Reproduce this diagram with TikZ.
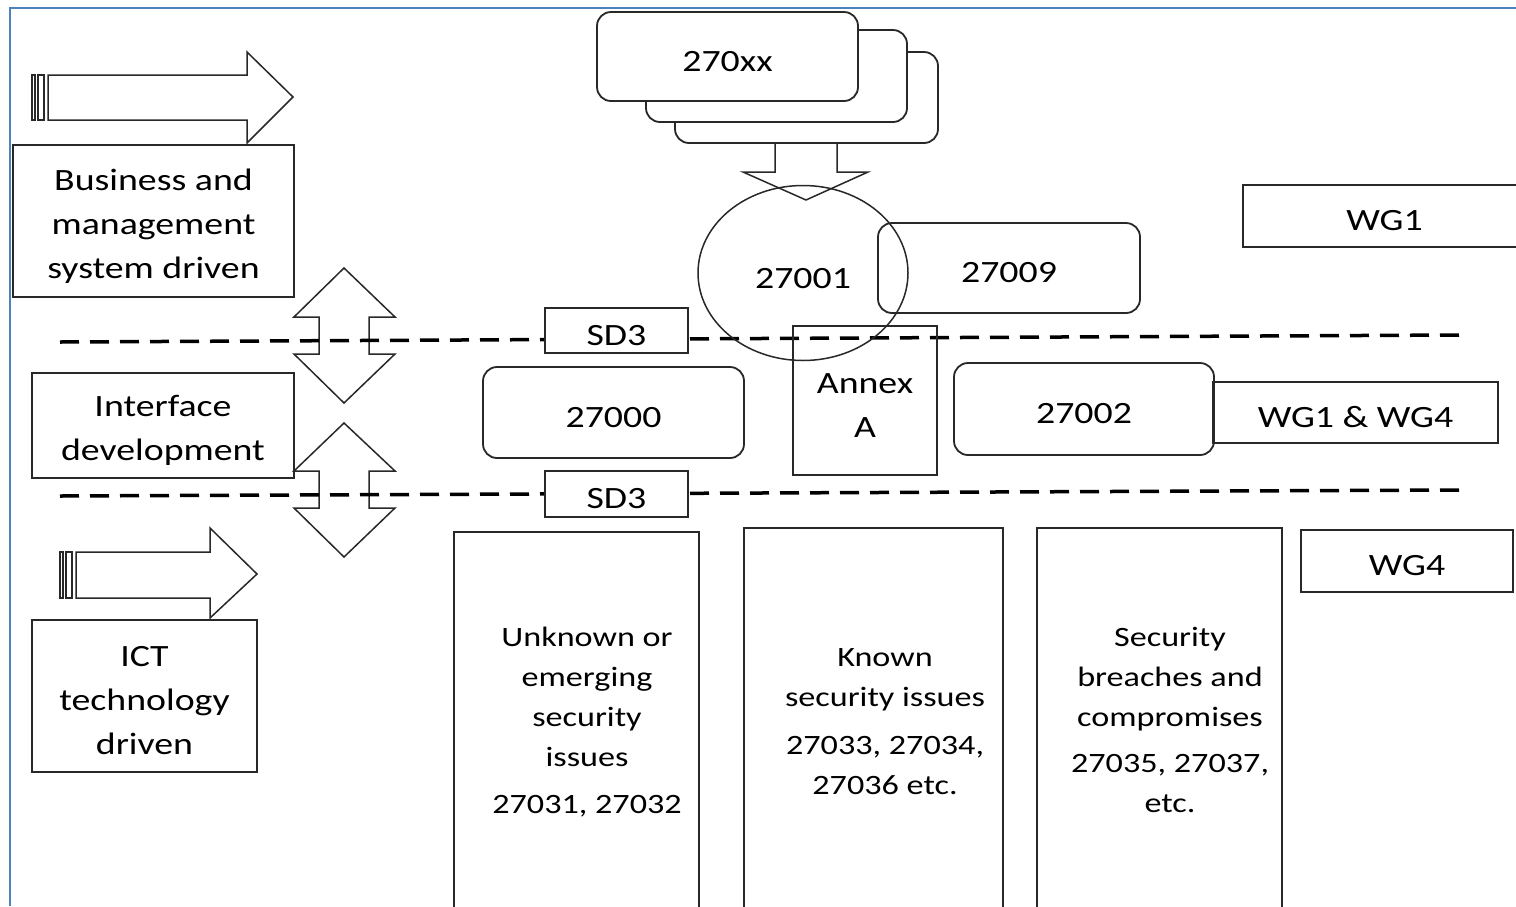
\documentclass[tikz,border=0pt]{standalone}
\usepackage{fontspec}
\setmainfont{Carlito}[FakeStretch=1.22]
\usepackage{tikz}
\usetikzlibrary{shapes.geometric,positioning,calc}
\usepackage{xcolor}
\definecolor{frameblue}{RGB}{79,129,189}
\definecolor{ink}{RGB}{40,40,40}

\tikzset{
  box/.style={draw=ink, line width=1.8pt, inner sep=0pt},
  rbox/.style={box, rounded corners=14pt},
  plate/.style={rbox, fill=white},
  tag/.style={align=center, font=\fontsize{31}{44}\selectfont, yshift=-5pt},
  coltext/.style={align=center, font=\fontsize{28}{40}\selectfont},
  blockarrow/.style={draw=ink, line width=1.5pt, line join=miter},
  divider/.style={line width=3.5pt, dash pattern=on 19pt off 11pt}
}

\begin{document}
\begin{tikzpicture}[x=1pt, y=-1pt]
    \clip (0,0) rectangle (1516,906);
    \fill[white] (0,0) rectangle (1516,906);

    % Frame
    \draw[frameblue, line width=2pt] (10,906) -- (10,8) -- (1516,8);

    % Left side: drivers
    \draw[blockarrow] (48,75) -- (247,75) -- (247,52) -- (293,97) -- (247,143)
        -- (247,120) -- (48,120) -- cycle;
    \draw[blockarrow] (32,75) rectangle (35,120);
    \draw[blockarrow] (38,75) rectangle (44,120);
    \node[box, minimum width=281pt, minimum height=152pt,
        label={[tag]center:{Business and\\management\\system driven}}] (business) at (153.5,221) {};

    \node[box, minimum width=262pt, minimum height=105pt,
        label={[tag]center:{Interface\\development}}] (interface) at (163,425.5) {};

    \draw[blockarrow] (76,552) -- (210,552) -- (210,528) -- (257,574) -- (210,618)
        -- (210,598) -- (76,598) -- cycle;
    \draw[blockarrow] (60,552) rectangle (63,598);
    \draw[blockarrow] (66,552) rectangle (72,598);
    \node[box, minimum width=225pt, minimum height=152pt,
        label={[tag]center:{ICT\\technology\\driven}}] (ict) at (144.5,696) {};

    % Up-down arrows
    \draw[blockarrow] (344,268) -- (395,317) -- (369,317) -- (369,354) -- (395,354)
        -- (344,403) -- (294,354) -- (319,354) -- (319,317) -- (294,317) -- cycle;
    \draw[blockarrow] (344,423) -- (395,471) -- (369,471) -- (369,508) -- (395,508)
        -- (344,557) -- (294,508) -- (319,508) -- (319,471) -- (294,471) -- cycle;

    % 270xx stack
    \node[plate, minimum width=263pt, minimum height=91pt] (stack3) at (806.5,97.5) {};
    \node[plate, minimum width=261pt, minimum height=92pt] (stack2) at (776.5,76) {};
    \node[plate, minimum width=261pt, minimum height=89pt,
        label={[tag]center:{270xx}}] (family) at (727.5,56.5) {};
    \draw[blockarrow] (775,143) -- (775,172) -- (743,172) -- (806,200) -- (868,172)
        -- (837,172) -- (837,143);

    % Dividers
    \coordinate (d1w) at (60,342);
    \coordinate (d1e) at (1460,335);
    \coordinate (d2w) at (60,496);
    \coordinate (d2e) at (1460,490);
    \draw[divider] (d1w) -- (d1e);
    \draw[divider] (d2w) -- (d2e);

    % Core standards
    \node[draw=ink, line width=1.5pt, ellipse, minimum width=210pt, minimum height=175pt,
        inner sep=0pt, label={[tag, yshift=-1pt]center:{27001}}] (isms) at (803,273) {};
    \node[rbox, minimum width=262pt, minimum height=90pt,
        label={[tag]center:{27009}}] (g27009) at (1009,268) {};
    \node[box, minimum width=144pt, minimum height=149pt,
        label={[tag]center:{Annex\\A}}] (annex) at (865,400.5) {};
    \node[rbox, minimum width=261pt, minimum height=91pt,
        label={[tag]center:{27000}}] (g27000) at (613.5,412.5) {};
    \node[rbox, minimum width=260pt, minimum height=92pt,
        label={[tag]center:{27002}}] (g27002) at (1084,409) {};
    \node[box, fill=white, minimum width=143pt, minimum height=45pt,
        label={[tag]center:{SD3}}] (sd3a) at (616.5,330.5) {};
    \node[box, fill=white, minimum width=143pt, minimum height=46pt,
        label={[tag]center:{SD3}}] (sd3b) at (616.5,494) {};

    % Working groups
    \node[box, minimum width=287pt, minimum height=62pt,
        label={[tag, xshift=-2pt]center:{WG1}}] (wg1) at (1386.5,216) {};
    \node[box, minimum width=285pt, minimum height=61pt,
        label={[tag]center:{WG1 \& WG4}}] (wg14) at (1355.5,412.5) {};
    \node[box, minimum width=212pt, minimum height=62pt,
        label={[tag]center:{WG4}}] (wg4) at (1407,561) {};

    % Security issue columns
    \node[box, minimum width=245pt, minimum height=398pt] (unknown) at (576.5,731) {};
    \node[box, minimum width=259pt, minimum height=402pt] (known) at (873.5,729) {};
    \node[box, minimum width=245pt, minimum height=402pt] (breach) at (1159.5,729) {};
    \node[coltext] (unknown-text) at (587,722)
        {Unknown or\\emerging\\security\\issues\\[7pt]27031, 27032};
    \node[coltext] (known-text) at (885,722)
        {Known\\security issues\\[8pt]27033, 27034,\\27036 etc.};
    \node[coltext] (breach-text) at (1170,720)
        {Security\\breaches and\\compromises\\[6pt]27035, 27037,\\etc.};
\end{tikzpicture}
\end{document}
